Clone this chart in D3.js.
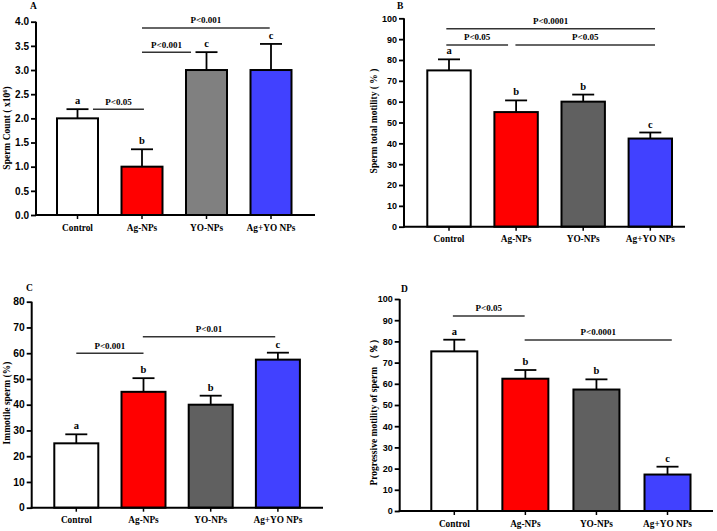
<!DOCTYPE html>
<html><head><meta charset="utf-8">
<script src="https://cdn.jsdelivr.net/npm/d3@7"></script>
<style>
body{margin:0;background:#fff;}
svg{display:block;}
.yax .tick text{font-family:"Liberation Sans",Arial,sans-serif;font-weight:bold;fill:#000;}
.xax .tick text{font-family:"Liberation Serif","Times New Roman",serif;font-weight:bold;fill:#000;}
</style>
</head><body>
<svg id="chart" width="717" height="531"></svg>
<script>
const categories = ["Control", "Ag-NPs", "YO-NPs", "Ag+YO NPs"];

// Panel A: sperm count (x10^6)
const countMean = [2.0, 1.0, 3.0, 3.0];
const countErr  = [0.19, 0.36, 0.37, 0.54];
const countLetters = ["a", "b", "c", "c"];
const countTicks = [0, 0.5, 1.0, 1.5, 2.0, 2.5, 3.0, 3.5, 4.0];
const countSig = [[0.24, 1.03, 2.19, "P<0.05"], [1.0, 1.76, 3.37, "P<0.001"], [1.0, 2.98, 3.87, "P<0.001"]];

// Panel B: total motility (%)
const totalMean = [75, 55, 60, 42.3];
const totalErr  = [5.3, 5.6, 3.4, 2.9];
const totalLetters = ["a", "b", "b", "c"];
const totalTicks = [0, 10, 20, 30, 40, 50, 60, 70, 80, 90, 100];
const totalSig = [[-0.04, 3.07, 95, "P<0.0001"], [-0.04, 0.88, 87.2, "P<0.05"], [0.99, 3.07, 87.2, "P<0.05"]];

// Panel C: immotile sperm (%)
const immMean = [25, 45, 40, 57.5];
const immErr  = [3.5, 5.3, 3.5, 2.7];
const immLetters = ["a", "b", "b", "c"];
const immTicks = [0, 10, 20, 30, 40, 50, 60, 70, 80];
const immSig = [[0.0, 1.0, 60, "P<0.001"], [0.99, 2.96, 66.4, "P<0.01"]];

// Panel D: progressive motility (%)
const progMean = [75.3, 62.4, 57.3, 17.2];
const progErr  = [5.5, 4.1, 4.8, 3.7];
const progLetters = ["a", "b", "b", "c"];
const progTicks = [0, 10, 20, 30, 40, 50, 60, 70, 80, 90, 100];
const progSig = [[-0.02, 0.99, 92, "P<0.05"], [0.99, 3.06, 80.7, "P<0.0001"]];

const colorsA = ["#ffffff", "#ff0000", "#808080", "#4141ff"];
const colorsB = ["#ffffff", "#ff0000", "#606060", "#4141ff"];

const svg = d3.select("#chart");
const serif = '"Liberation Serif","Times New Roman",serif';

function panel(o) {
  const g = svg.append("g");
  const y = d3.scaleLinear().domain([0, o.yMax]).range([o.y0, o.yTop]);
  const x = d3.scaleBand().domain(categories)
    .range([o.firstCenter - o.step / 2, o.firstCenter - o.step / 2 + o.step * categories.length])
    .paddingInner(1 - o.barW / o.step).paddingOuter((1 - o.barW / o.step) / 2);
  const cx = i => x(categories[i]) + x.bandwidth() / 2;
  const xi = v => o.firstCenter + v * o.step; // fractional category index -> px

  // bars
  g.selectAll("rect.bar").data(o.mean).join("rect")
    .attr("x", (d, i) => x(categories[i])).attr("width", x.bandwidth())
    .attr("y", d => y(d)).attr("height", d => y(0) - y(d))
    .attr("fill", (d, i) => o.colors[i]).attr("stroke", "#000").attr("stroke-width", 2);

  // error bars
  g.selectAll("line.err").data(o.mean).join("line")
    .attr("x1", (d, i) => cx(i)).attr("x2", (d, i) => cx(i))
    .attr("y1", d => y(d)).attr("y2", (d, i) => y(d + o.err[i]))
    .attr("stroke", "#000").attr("stroke-width", 1.8);
  g.selectAll("line.cap").data(o.mean).join("line")
    .attr("x1", (d, i) => cx(i) - 11).attr("x2", (d, i) => cx(i) + 11)
    .attr("y1", (d, i) => y(d + o.err[i])).attr("y2", (d, i) => y(d + o.err[i]))
    .attr("stroke", "#000").attr("stroke-width", 1.8);

  // letters
  g.selectAll("text.let").data(o.letters).join("text")
    .attr("x", (d, i) => cx(i)).attr("y", (d, i) => y(o.mean[i] + o.err[i]) - 5)
    .attr("text-anchor", "middle").attr("font-family", serif).attr("font-weight", "bold")
    .attr("font-size", 10.5).text(d => d);

  // significance lines
  g.selectAll("line.sig").data(o.sig).join("line")
    .attr("x1", d => xi(d[0])).attr("x2", d => xi(d[1]))
    .attr("y1", d => y(d[2])).attr("y2", d => y(d[2]))
    .attr("stroke", "#333").attr("stroke-width", 1.5);
  g.selectAll("text.sig").data(o.sig).join("text")
    .attr("x", d => (xi(d[0]) + xi(d[1])) / 2).attr("y", d => y(d[2]) - 4.5)
    .attr("text-anchor", "middle").attr("font-family", serif).attr("font-weight", "bold")
    .attr("font-size", 9).text(d => d[3]);

  // y axis
  const ya = g.append("g").attr("class", "yax").attr("transform", `translate(${o.axisX},0)`)
    .call(d3.axisLeft(y).tickValues(o.ticks).tickFormat(o.fmt).tickSize(5).tickPadding(2).tickSizeOuter(0));
  ya.select(".domain").attr("stroke-width", 2).attr("d", `M0,${o.y0 + 1}V${o.yTop}`);
  ya.selectAll(".tick line").attr("stroke-width", 1.8);
  ya.selectAll(".tick text").style("font-size", o.tickFont + "px");

  // x axis
  const xa = g.append("g").attr("class", "xax").attr("transform", `translate(0,${o.y0})`)
    .call(d3.axisBottom(x).tickSize(4).tickPadding(5).tickSizeOuter(0));
  xa.select(".domain").attr("stroke-width", 2).attr("d", `M${o.axisX - 1},0H${o.xEnd}`);
  xa.selectAll(".tick line").attr("stroke-width", 1.5);
  xa.selectAll(".tick text").style("font-size", "9.3px");

  // y title
  const t = g.append("text")
    .attr("transform", `translate(${o.titleX},${o.titleY}) rotate(-90)`)
    .attr("text-anchor", "middle").attr("font-family", serif).attr("font-weight", "bold")
    .attr("font-size", o.titleFont);
  o.title.forEach(part => {
    const ts = t.append("tspan").text(part[0]);
    if (part[1]) ts.attr("baseline-shift", "super").attr("font-size", o.titleFont * 0.7);
  });

  // panel letter
  g.append("text").attr("x", o.letterX).attr("y", o.letterY)
    .attr("font-family", serif).attr("font-weight", "bold").attr("font-size", 9.5).text(o.letter);
}

panel({mean: countMean, err: countErr, letters: countLetters, sig: countSig, ticks: countTicks,
  fmt: d3.format(".1f"), yMax: 4, y0: 215, yTop: 21.7, axisX: 36, xEnd: 315,
  firstCenter: 77.5, step: 64.5, barW: 41, colors: colorsA, tickFont: 10,
  title: [["Sperm Count ( x10"], ["6", true], [")"]], titleX: 9.5, titleY: 128, titleFont: 9.5,
  letter: "A", letterX: 30, letterY: 9});

panel({mean: totalMean, err: totalErr, letters: totalLetters, sig: totalSig, ticks: totalTicks,
  fmt: d3.format("d"), yMax: 100, y0: 226.7, yTop: 18.3, axisX: 404, xEnd: 685,
  firstCenter: 449, step: 67.1, barW: 43.4, colors: colorsB, tickFont: 9,
  title: [["Sperm total motility ( % )"]], titleX: 376.5, titleY: 121, titleFont: 9.5,
  letter: "B", letterX: 397, letterY: 9});

panel({mean: immMean, err: immErr, letters: immLetters, sig: immSig, ticks: immTicks,
  fmt: d3.format("d"), yMax: 80, y0: 507.7, yTop: 301.7, axisX: 31.7, xEnd: 323,
  firstCenter: 76.3, step: 67.2, barW: 44, colors: colorsB, tickFont: 10.3,
  title: [["Immotile sperm (%)"]], titleX: 9.5, titleY: 403, titleFont: 9.5,
  letter: "C", letterX: 26, letterY: 290.5});

panel({mean: progMean, err: progErr, letters: progLetters, sig: progSig, ticks: progTicks,
  fmt: d3.format("d"), yMax: 100, y0: 511, yTop: 299, axisX: 399.7, xEnd: 713,
  firstCenter: 454.3, step: 71.07, barW: 46, colors: colorsB, tickFont: 9,
  title: [["Progressive motility of sperm （％）"]], titleX: 376.5, titleY: 410, titleFont: 9.5,
  letter: "D", letterX: 401, letterY: 291.5});
</script>
</body></html>
